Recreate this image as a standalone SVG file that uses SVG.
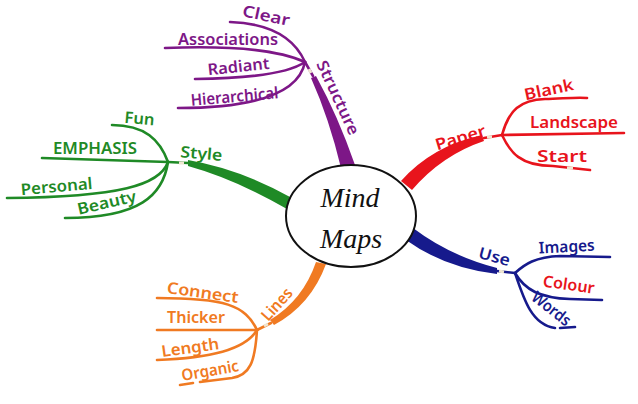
<svg xmlns="http://www.w3.org/2000/svg" width="638" height="404" viewBox="0 0 638 404">
<style>
.t{font-family:"Noto Sans","DejaVu Sans",sans-serif;font-weight:600;font-size:16px;text-anchor:middle}
.c{font-family:"Liberation Serif",serif;font-style:italic;font-size:28px;text-anchor:middle;fill:#111}
.ln{fill:none;stroke-width:2.6;stroke-linecap:round}
.gap{stroke:#efe6d2;stroke-width:3;fill:none}
.pu{stroke:#7d1787}.puf{fill:#7d1787}
.re{stroke:#e8141c}.ref{fill:#e8141c}
.bl{stroke:#161a8c}.blf{fill:#161a8c}
.or{stroke:#f07a22}.orf{fill:#f07a22}
.gr{stroke:#1f8a26}.grf{fill:#1f8a26}
</style>
<rect width="638" height="404" fill="#fff"/>
<g id="connectors">
  <path class="puf" d="M341 168 Q329 118 311 78 L316 76 Q338 116 355 165 Z"/>
  <path class="ref" d="M401 181 Q432 146 482 135 L484 141 Q442 155 412 190 Z"/>
  <path class="blf" d="M413 228 Q450 256 497 268 L497 274 Q445 268 406 240 Z"/>
  <path class="orf" d="M316 262 Q303 300 270 320 L274 325 Q311 305 326 264 Z"/>
  <path class="grf" d="M290 197 Q240 169 188 160 L188 166 Q235 179 287 209 Z"/>
  <path class="ln pu" d="M313 76 L305 62"/>
  <path class="ln pu" d="M305 62 Q288 24 230 22"/>
  <path class="ln pu" d="M305 62 Q265 44 165 48"/>
  <path class="ln pu" d="M305 62 Q282 78 195 79"/>
  <path class="ln pu" d="M305 62 Q296 108 178 108"/>
  <path class="gap" d="M311 73 L309 69"/>
  <path class="ln re" d="M484 138 L502 135"/>
  <path class="ln re" d="M502 135 C509 110 520 100 545 99 S580 97 587 98"/>
  <path class="ln re" d="M502 135 L624 133"/>
  <path class="ln re" d="M502 135 C510 152 520 166 553 166 L590 170"/>
  <path class="gap" d="M487 137 L492 137"/>
  <path class="gap" d="M567 168 L573 168"/>
  <path class="ln bl" d="M497 271 L515 273"/>
  <path class="ln bl" d="M515 273 C525 264 535 257 560 256 L610 257"/>
  <path class="ln bl" d="M515 273 C525 290 540 298 570 299 L602 300"/>
  <path class="ln bl" d="M515 273 C524 300 532 325 555 328"/>
  <path class="ln bl" d="M560 328 L575 327"/>
  <path class="gap" d="M499 271 L504 272"/>
  <path class="ln or" d="M271 323 L257 330"/>
  <path class="ln or" d="M257 330 C245 305 225 298 157 298"/>
  <path class="ln or" d="M257 330 L157 330"/>
  <path class="ln or" d="M257 330 C245 350 210 358 157 360"/>
  <path class="ln or" d="M257 330 C255 362 250 375 232 378 L200 382"/>
  <path class="ln or" d="M193 383 L180 385"/>
  <path class="gap" d="M268 324 L264 326"/>
  <path class="ln gr" d="M188 163 L168 162"/>
  <path class="ln gr" d="M168 162 C160 140 145 125 112 125"/>
  <path class="ln gr" d="M168 162 L42 158"/>
  <path class="ln gr" d="M168 162 C160 185 120 197 7 198"/>
  <path class="ln gr" d="M168 162 C163 195 140 218 65 218"/>
  <path class="gap" d="M184 163 L179 163"/>
</g>
<g id="center">
  <ellipse cx="351" cy="216" rx="65" ry="51" fill="#fff" stroke="#111" stroke-width="2"/>
  <text class="c" x="350" y="207">Mind</text>
  <text class="c" x="351" y="248">Maps</text>
</g>
<g id="structure" fill="#7d1787">
  <text class="t" transform="translate(333,100) rotate(65)" textLength="80" lengthAdjust="spacingAndGlyphs">Structure</text>
  <text class="t" transform="translate(265,21) rotate(12)" textLength="48" lengthAdjust="spacingAndGlyphs">Clear</text>
  <text class="t" x="228" y="45" textLength="100" lengthAdjust="spacingAndGlyphs">Associations</text>
  <text class="t" transform="translate(239,72) rotate(-6)" textLength="62" lengthAdjust="spacingAndGlyphs">Radiant</text>
  <text class="t" transform="translate(235,102) rotate(-5)" textLength="88" lengthAdjust="spacingAndGlyphs">Hierarchical</text>
</g>
<g id="paper" fill="#e8141c">
  <text class="t" transform="translate(462,143) rotate(-17)" textLength="52" lengthAdjust="spacingAndGlyphs">Paper</text>
  <text class="t" transform="translate(550,95) rotate(-12)" textLength="50" lengthAdjust="spacingAndGlyphs">Blank</text>
  <text class="t" x="574" y="128" textLength="88" lengthAdjust="spacingAndGlyphs">Landscape</text>
  <text class="t" x="562" y="162" textLength="50" lengthAdjust="spacingAndGlyphs">Start</text>
</g>
<g id="use" fill="#161a8c">
  <text class="t" transform="translate(493,262) rotate(15)" textLength="32" lengthAdjust="spacingAndGlyphs">Use</text>
  <text class="t" transform="translate(567,252) rotate(-3)" textLength="56" lengthAdjust="spacingAndGlyphs">Images</text>
  <text class="t" transform="translate(568,290) rotate(8)" fill="#e8141c" textLength="52" lengthAdjust="spacingAndGlyphs">Colour</text>
  <text class="t" transform="translate(548,313) rotate(38)" textLength="45" lengthAdjust="spacingAndGlyphs">Words</text>
</g>
<g id="lines" fill="#f07a22">
  <text class="t" transform="translate(281,308) rotate(-48)" textLength="38" lengthAdjust="spacingAndGlyphs">Lines</text>
  <text class="t" transform="translate(202,298) rotate(8)" textLength="72" lengthAdjust="spacingAndGlyphs">Connect</text>
  <text class="t" x="196" y="323" textLength="58" lengthAdjust="spacingAndGlyphs">Thicker</text>
  <text class="t" transform="translate(191,353) rotate(-8)" textLength="58" lengthAdjust="spacingAndGlyphs">Length</text>
  <text class="t" transform="translate(211,376) rotate(-10)" textLength="58" lengthAdjust="spacingAndGlyphs">Organic</text>
</g>
<g id="style" fill="#1f8a26">
  <text class="t" transform="translate(201,159) rotate(5)" textLength="42" lengthAdjust="spacingAndGlyphs">Style</text>
  <text class="t" transform="translate(139,124) rotate(5)" textLength="30" lengthAdjust="spacingAndGlyphs">Fun</text>
  <text class="t" x="95" y="154" textLength="84" lengthAdjust="spacingAndGlyphs">EMPHASIS</text>
  <text class="t" transform="translate(57,192) rotate(-5)" textLength="72" lengthAdjust="spacingAndGlyphs">Personal</text>
  <text class="t" transform="translate(108,208) rotate(-13)" textLength="60" lengthAdjust="spacingAndGlyphs">Beauty</text>
</g>
</svg>
